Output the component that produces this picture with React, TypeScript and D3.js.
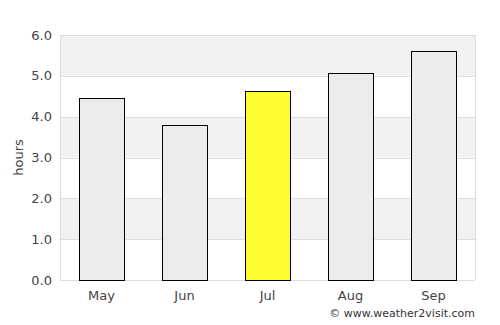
import React from 'react'
import * as d3 from 'd3'

const months = ['May', 'Jun', 'Jul', 'Aug', 'Sep']
const hours = [4.45, 3.8, 4.62, 5.06, 5.6]
const highlight = 'Jul'
const yTicks = [0, 1, 2, 3, 4, 5, 6]

const W = 500
const H = 325
const margin = { top: 35, right: 25, bottom: 45, left: 60 }

export default function App () {
  const x = d3
    .scaleBand()
    .domain(months)
    .range([margin.left, W - margin.right])
    .paddingInner(0.46)
    .paddingOuter(0.23)
  const y = d3
    .scaleLinear()
    .domain([0, 6])
    .range([H - margin.bottom, margin.top])

  const font = 'DejaVu Sans, sans-serif'

  return (
    <svg width={W} height={H} style={{ position: 'absolute', left: 0, top: 0 }}>
      <rect x={0} y={0} width={W} height={H} fill='#fff' />
      {/* alternating bands */}
      {yTicks.slice(0, -1).map(t => (
        <rect
          key={'b' + t}
          x={margin.left}
          y={y(t + 1)}
          width={W - margin.right - margin.left}
          height={y(t) - y(t + 1)}
          fill={t % 2 === 1 ? '#f2f2f2' : '#fff'}
        />
      ))}
      {yTicks.map(t => (
        <line
          key={'g' + t}
          x1={margin.left}
          x2={W - margin.right}
          y1={Math.round(y(t)) + 0.5}
          y2={Math.round(y(t)) + 0.5}
          stroke='#dedede'
        />
      ))}
      <line
        x1={margin.left + 0.5}
        x2={margin.left + 0.5}
        y1={margin.top}
        y2={H - margin.bottom}
        stroke='#dedede'
      />
      <line
        x1={W - margin.right + 0.5}
        x2={W - margin.right + 0.5}
        y1={margin.top}
        y2={H - margin.bottom}
        stroke='#dedede'
      />
      {months.map((m, i) => (
        <rect
          key={m}
          x={Math.round(x(m)!) + 0.5}
          y={Math.round(y(hours[i])) + 0.5}
          width={Math.round(x.bandwidth())}
          height={Math.round(y(0)) - Math.round(y(hours[i]))}
          fill={m === highlight ? '#ffff33' : '#ececec'}
          stroke='#000'
          strokeWidth={1}
        />
      ))}
      {yTicks.map(t => (
        <text
          key={'l' + t}
          x={margin.left - 8}
          y={y(t)}
          dy='0.35em'
          textAnchor='end'
          fontFamily={font}
          fontSize={13}
          fill='#444'
        >
          {t.toFixed(1)}
        </text>
      ))}
      {months.map(m => (
        <text
          key={'x' + m}
          x={x(m)! + x.bandwidth() / 2}
          y={H - margin.bottom + 20}
          textAnchor='middle'
          fontFamily={font}
          fontSize={13}
          fill='#444'
        >
          {m}
        </text>
      ))}
      <text
        transform={`translate(23,${(margin.top + H - margin.bottom) / 2}) rotate(-90)`}
        textAnchor='middle'
        fontFamily={font}
        fontSize={13}
        fill='#444'
      >
        hours
      </text>
      <text
        x={W - margin.right}
        y={H - 8}
        textAnchor='end'
        fontFamily={font}
        fontSize={11}
        fill='#333'
      >
        © www.weather2visit.com
      </text>
    </svg>
  )
}
